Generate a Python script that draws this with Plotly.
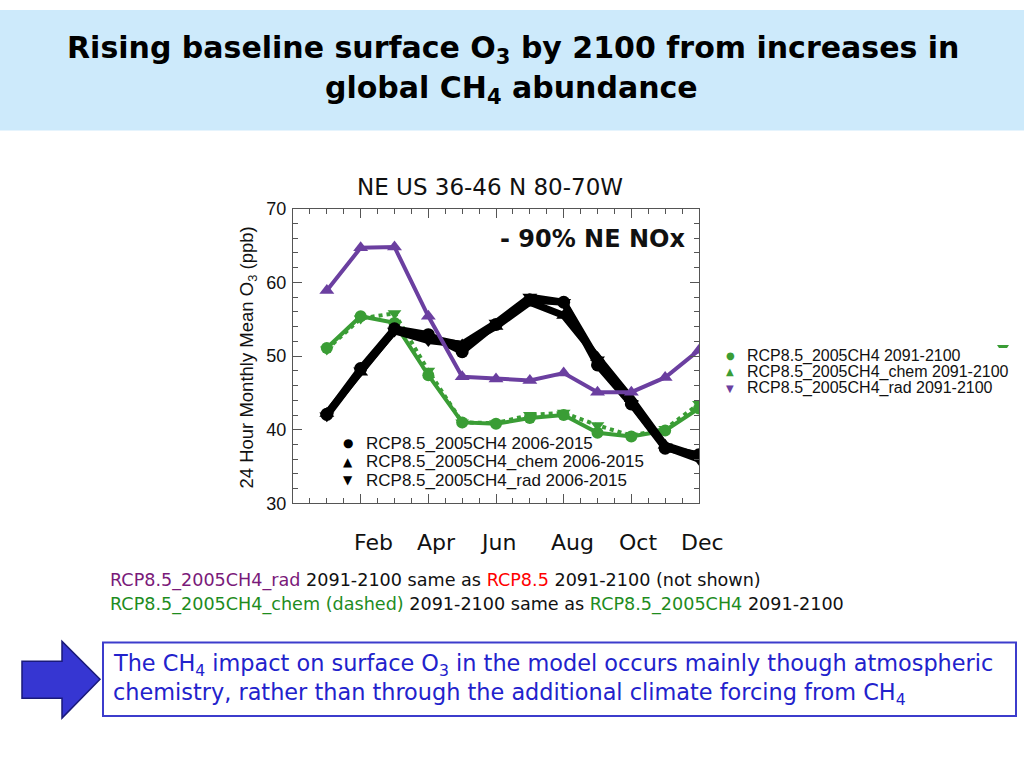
import plotly.graph_objects as go

# ---------------- data ----------------
months = [1, 2, 3, 4, 5, 6, 7, 8, 9, 10, 11, 12]
month_labels = ["Feb", "Apr", "Jun", "Aug", "Oct", "Dec"]

black_base = [42.1, 48.3, 53.7, 52.9, 50.6, 54.3, 57.6, 57.3, 48.8, 43.5, 37.5, 36.6]
black_chem = [42.2, 47.8, 53.5, 52.5, 51.5, 54.0, 57.3, 55.5, 49.8, 44.2, 37.9, 36.4]
black_rad = [41.9, 48.0, 53.4, 52.1, 51.6, 54.5, 58.0, 57.3, 49.5, 43.6, 37.7, 36.0]
green_base = [51.1, 55.4, 54.5, 47.4, 41.0, 40.8, 41.6, 42.0, 39.6, 39.1, 39.9, 42.9]
green_chem = [50.9, 55.1, 55.8, 48.0, 41.0, 40.9, 42.0, 42.3, 40.6, 39.2, 40.1, 43.5]
purple_rad = [58.9, 64.7, 64.8, 55.4, 47.2, 46.9, 46.7, 47.7, 45.1, 45.1, 47.1, 50.8]

legend_hist = ["RCP8.5_2005CH4 2006-2015", "RCP8.5_2005CH4_chem 2006-2015", "RCP8.5_2005CH4_rad 2006-2015"]
legend_fut = ["RCP8.5_2005CH4 2091-2100", "RCP8.5_2005CH4_chem 2091-2100", "RCP8.5_2005CH4_rad 2091-2100"]

W, H = 1024, 768
# the photographed page comes out vertically squeezed (y_img = 7 + 0.978*y),
# so target pixel positions are converted back before use
Y_OFF, Y_SCALE = 7.0, 0.978
def px(x):
    return x / W
def py(y):
    return 1 - ((y - Y_OFF) / Y_SCALE) / H

# pixel centres of the month labels under the plot
month_label_px = [373, 436, 498, 572, 638, 702]

GREEN = "#3a9d35"
PURPLE = "#6b3fa0"
BLACK = "#000000"

fig = go.Figure()

fig.add_trace(go.Scatter(x=months, y=green_chem, mode="lines+markers",
                         line=dict(color=GREEN, width=4, dash="dot"),
                         marker=dict(symbol="triangle-down", size=12, color=GREEN)))
fig.add_trace(go.Scatter(x=months, y=green_base, mode="lines+markers",
                         line=dict(color=GREEN, width=4),
                         marker=dict(symbol="circle", size=12, color=GREEN)))
fig.add_trace(go.Scatter(x=months, y=black_chem, mode="lines+markers",
                         line=dict(color=BLACK, width=7),
                         marker=dict(symbol="triangle-up", size=13, color=BLACK)))
fig.add_trace(go.Scatter(x=months, y=black_rad, mode="lines+markers",
                         line=dict(color=BLACK, width=7),
                         marker=dict(symbol="triangle-down", size=13, color=BLACK)))
fig.add_trace(go.Scatter(x=months, y=black_base, mode="lines+markers",
                         line=dict(color=BLACK, width=7),
                         marker=dict(symbol="circle", size=13, color=BLACK)))
fig.add_trace(go.Scatter(x=months, y=purple_rad, mode="lines+markers",
                         line=dict(color=PURPLE, width=4),
                         marker=dict(symbol="triangle-up", size=13, color=PURPLE)))

axis_common = dict(showline=True, linecolor="#555555", linewidth=1.2, mirror="allticks",
                   ticks="inside", tickcolor="#555555", showgrid=False, zeroline=False)

fig.update_xaxes(range=[0, 12], domain=[px(293), px(699)], tickvals=[2, 4, 6, 8, 10, 12],
                 ticklen=9, showticklabels=False,
                 minor=dict(dtick=0.5, tick0=0, ticklen=5, ticks="inside", tickcolor="#555555"),
                 **axis_common)
fig.update_yaxes(range=[30, 70], domain=[py(502.5), py(206.5)], dtick=10, ticklen=9,
                 tickfont=dict(family="Liberation Sans", size=18, color="#111111"),
                 ticklabelstandoff=2,
                 minor=dict(dtick=2, ticklen=5, ticks="inside", tickcolor="#555555"),
                 **axis_common)

shapes = []
shapes.append(dict(type="rect", xref="paper", yref="paper", x0=0, x1=1, y0=py(128), y1=1,
                   fillcolor="#cdeafb", line=dict(width=0), layer="below"))
shapes.append(dict(type="rect", xref="paper", yref="paper", x0=px(103), x1=px(1016),
                   y0=py(716), y1=py(642), line=dict(color="#3c3ccc", width=2),
                   fillcolor="white"))
pts = [(22, 661), (62, 661), (62, 641), (100, 679), (62, 718), (62, 698), (22, 698)]
path = "M " + " L ".join(f"{px(a):.5f},{py(b):.5f}" for a, b in pts) + " Z"
shapes.append(dict(type="path", xref="paper", yref="paper", path=path,
                   fillcolor="#3636d2", line=dict(color="#1a1a7a", width=1.5)))
# clipped green legend-symbol fragment at the right edge of the slide
frag = [(997, 343.5), (1009, 343.5), (1007, 346.5), (999, 346.5)]
fpath = "M " + " L ".join(f"{px(a):.5f},{py(b):.5f}" for a, b in frag) + " Z"
shapes.append(dict(type="path", xref="paper", yref="paper", path=fpath,
                   fillcolor=GREEN, line=dict(width=0)))

ann = []
TITLE_FONT = "DejaVu Sans"
ann.append(dict(text="<b>Rising baseline surface O<sub>3</sub> by 2100 from increases in</b>",
                x=px(513), y=py(47), xref="paper", yref="paper", showarrow=False,
                xanchor="center", yanchor="middle",
                font=dict(family=TITLE_FONT, size=30, color="#000000")))
ann.append(dict(text="<b>global CH<sub>4</sub> abundance</b>",
                x=px(511), y=py(87), xref="paper", yref="paper", showarrow=False,
                xanchor="center", yanchor="middle",
                font=dict(family=TITLE_FONT, size=30, color="#000000")))
ann.append(dict(text="NE US 36-46 N 80-70W", x=px(490), y=py(185), xref="paper", yref="paper",
                showarrow=False, xanchor="center", yanchor="middle",
                font=dict(family="DejaVu Sans", size=23, color="#111111")))
ann.append(dict(text="<b>- 90% NE NOx</b>", x=px(687), y=py(237), xref="paper", yref="paper",
                showarrow=False, xanchor="right", yanchor="middle",
                font=dict(family="DejaVu Sans", size=24, color="#111111")))
ann.append(dict(text="24 Hour Monthly Mean O<sub>3</sub> (ppb)", x=px(248), y=py(356),
                xref="paper", yref="paper", showarrow=False, textangle=-90,
                xanchor="center", yanchor="middle",
                font=dict(family="Liberation Sans", size=18.5, color="#111111")))

sym_hist = ["●", "▲", "▼"]
for i, (s, t) in enumerate(zip(sym_hist, legend_hist)):
    yy = 442 + i * 18.5
    ann.append(dict(text=s, x=px(348), y=py(yy), xref="paper", yref="paper", showarrow=False,
                    xanchor="center", yanchor="middle",
                    font=dict(family="DejaVu Sans", size=12, color=BLACK)))
    ann.append(dict(text=t, x=px(364), y=py(yy), xref="paper", yref="paper", showarrow=False,
                    xanchor="left", yanchor="middle",
                    font=dict(family="Liberation Sans", size=17, color="#111111")))

sym_fut = ["●", "▲", "▼"]
col_fut = [GREEN, GREEN, PURPLE]
for i, (s, c, t) in enumerate(zip(sym_fut, col_fut, legend_fut)):
    yy = 354 + i * 16.5
    ann.append(dict(text=s, x=px(730), y=py(yy), xref="paper", yref="paper", showarrow=False,
                    xanchor="center", yanchor="middle",
                    font=dict(family="DejaVu Sans", size=10, color=c)))
    ann.append(dict(text=t, x=px(745), y=py(yy), xref="paper", yref="paper", showarrow=False,
                    xanchor="left", yanchor="middle",
                    font=dict(family="Liberation Sans", size=16, color="#111111")))

for lab, xp in zip(month_labels, month_label_px):
    ann.append(dict(text=lab, x=px(xp), y=py(542), xref="paper", yref="paper", showarrow=False,
                    xanchor="center", yanchor="middle",
                    font=dict(family="DejaVu Sans", size=22, color="#111111")))

BODY = "DejaVu Sans"
ann.append(dict(text=("<span style='color:#7a1a7a'>RCP8.5_2005CH4_rad</span> 2091-2100 same as "
                      "<span style='color:#ff0000'>RCP8.5</span> 2091-2100 (not shown)"),
                x=px(108), y=py(580), xref="paper", yref="paper", showarrow=False,
                xanchor="left", yanchor="middle",
                font=dict(family=BODY, size=17.6, color="#111111")))
ann.append(dict(text=("<span style='color:#1e8c1e'>RCP8.5_2005CH4_chem (dashed)</span> 2091-2100 same as "
                      "<span style='color:#1e8c1e'>RCP8.5_2005CH4</span> 2091-2100"),
                x=px(108), y=py(604), xref="paper", yref="paper", showarrow=False,
                xanchor="left", yanchor="middle",
                font=dict(family=BODY, size=17.6, color="#111111")))

ann.append(dict(text="The CH<sub>4</sub> impact on surface O<sub>3</sub> in the model occurs mainly though atmospheric",
                x=px(111), y=py(665), xref="paper", yref="paper", showarrow=False,
                xanchor="left", yanchor="middle",
                font=dict(family=BODY, size=22.4, color="#2222cc")))
ann.append(dict(text="chemistry, rather than through the additional climate forcing from CH<sub>4</sub>",
                x=px(111), y=py(694), xref="paper", yref="paper", showarrow=False,
                xanchor="left", yanchor="middle",
                font=dict(family=BODY, size=22.4, color="#2222cc")))

fig.update_layout(width=W, height=H, margin=dict(l=0, r=0, t=0, b=0),
                  paper_bgcolor="white", plot_bgcolor="white", showlegend=False,
                  shapes=shapes, annotations=ann)

post = ("var d=document.getElementById('{plot_id}');"
        "d.style.position='fixed';d.style.left='0px';d.style.top='0px';"
        "var r=document.documentElement;r.style.height='100%';"
        "r.style.background='linear-gradient(to bottom, #cdeafb 0%, #cdeafb 50%, #ffffff 50%, #ffffff 100%)';"
        "document.body.style.margin='0';document.body.style.overflow='hidden';"
        "r.style.overflow='hidden';")
fig.write_html("out.html", config={"displayModeBar": False}, post_script=post)
